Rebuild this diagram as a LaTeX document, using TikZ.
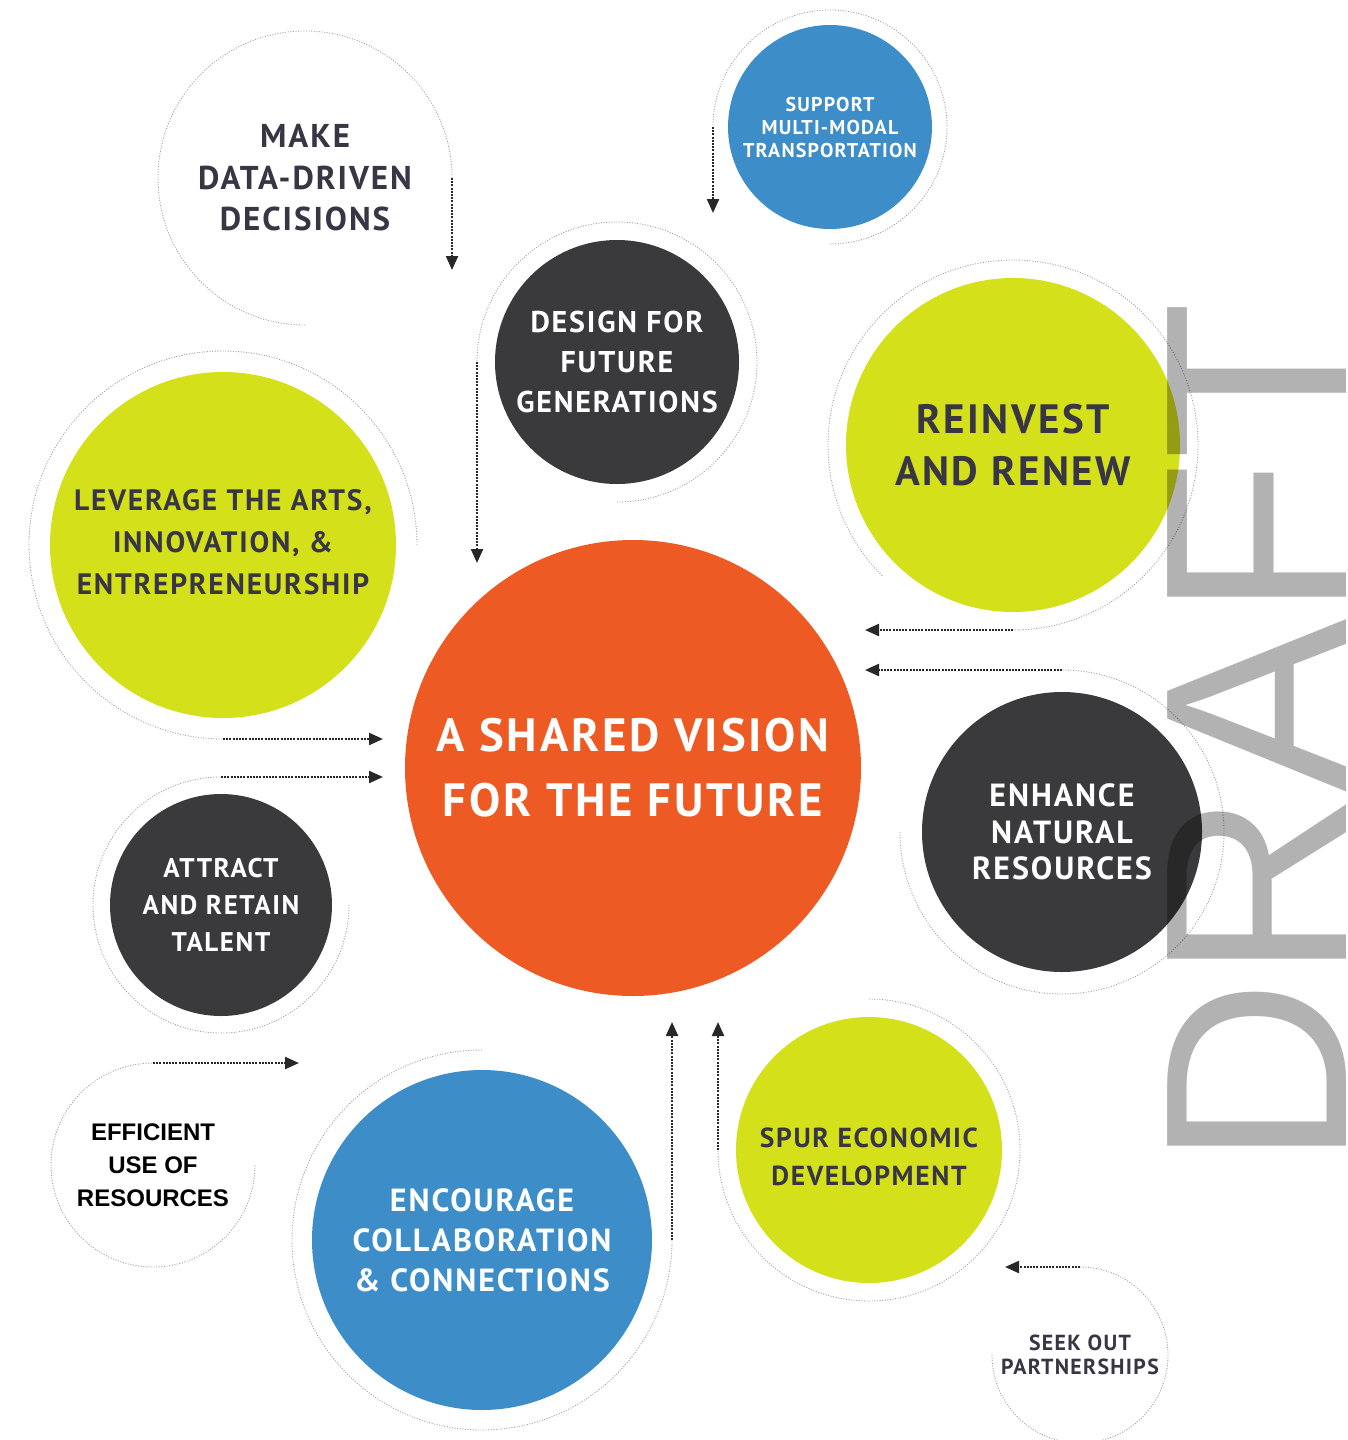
\documentclass[tikz,border=0pt]{standalone}
\usepackage{fontspec}
\setmainfont{PT Sans}
\newfontfamily\lab{PT Sans}[LetterSpace=6]
\newfontfamily\plainbold{Liberation Sans}
\newfontfamily\draftfont{Liberation Sans}
\usetikzlibrary{arrows.meta}
\newcommand\fsz[2]{\fontsize{#1}{#2}\selectfont}
\definecolor{vorange}{RGB}{237,90,35}
\definecolor{vblue}{RGB}{61,141,201}
\definecolor{vdark}{RGB}{58,58,60}
\definecolor{vlime}{RGB}{212,224,26}
\definecolor{vtext}{RGB}{56,54,68}
\definecolor{vring}{RGB}{160,160,168}
\definecolor{varrow}{RGB}{40,40,40}
\tikzset{
  disc/.style={circle, inner sep=0pt, draw=none},
  lbl/.style={align=center, inner sep=0pt},
  ring/.style={draw=vring, line width=0.9pt, dash pattern=on 1pt off 1.6pt},
  flow/.style={draw=varrow, line width=2.2pt, dash pattern=on 2pt off 1.2pt,
    -{Triangle[length=14pt,width=12pt]}},
}
\begin{document}
\begin{tikzpicture}[x=1pt,y=-1pt]
\fill[white] (0,0) rectangle (1347,1440);
\useasboundingbox (0,0) rectangle (1347,1440);

% ---------- filled discs ----------
\node[disc, fill=vorange, minimum size=456pt] (vision) at (633,768) {};
\node[disc, fill=vblue,  minimum size=204pt] (support) at (830,127) {};
\node[disc, fill=vdark,  minimum size=244pt] (design) at (617,362) {};
\node[disc, fill=vlime,  minimum size=334pt] (reinvest) at (1013,445) {};
\node[disc, fill=vlime,  minimum size=346pt] (leverage) at (223,545) {};
\node[disc, fill=vdark,  minimum size=280pt] (enhance) at (1062,832) {};
\node[disc, fill=vdark,  minimum size=222pt] (attract) at (221,905) {};
\node[disc, fill=vblue,  minimum size=340pt] (encourage) at (482,1240) {};
\node[disc, fill=vlime,  minimum size=266pt] (spur) at (869,1150) {};
\coordinate (make) at (305,178);
\coordinate (efficient) at (153,1165);
\coordinate (seek) at (1080,1355);

% ---------- rings ----------
\draw[ring] ([shift={(90:147)}]make) arc[start angle=90, end angle=360, radius=147] coordinate (make-e);
\draw[ring] ([shift={(90:117)}]support) arc[start angle=90, end angle=-180, radius=117] coordinate (support-e);
\draw[ring] ([shift={(90:140)}]design) arc[start angle=90, end angle=-180, radius=140] coordinate (design-e);
\draw[ring] ([shift={(135:185)}]reinvest) arc[start angle=135, end angle=450, radius=185] coordinate (reinvest-e);
\draw[ring] ([shift={(180:162)}]enhance) arc[start angle=180, end angle=-90, radius=162] coordinate (enhance-e);
\draw[ring] ([shift={(0:194)}]leverage) arc[start angle=0, end angle=-270, radius=194] coordinate (leverage-e);
\draw[ring] ([shift={(0:128)}]attract) arc[start angle=0, end angle=270, radius=128] coordinate (attract-e);
\draw[ring] ([shift={(0:102)}]efficient) arc[start angle=0, end angle=270, radius=102] coordinate (efficient-e);
\draw[ring] ([shift={(-90:190)}]encourage) arc[start angle=-90, end angle=-360, radius=190] coordinate (encourage-e);
\draw[ring] ([shift={(-90:151)}]spur) arc[start angle=-90, end angle=180, radius=151] coordinate (spur-e);
\draw[ring] ([shift={(180:88)}]seek) arc[start angle=180, end angle=-90, radius=88] coordinate (seek-e);

% ---------- arrow tips ----------
\coordinate (make-t) at (452,270);
\coordinate (support-t) at (713,213);
\coordinate (design-t) at (477,563);
\coordinate (reinvest-t) at (865,630);
\coordinate (enhance-t) at (865,670);
\coordinate (leverage-t) at (383,739);
\coordinate (attract-t) at (383,777);
\coordinate (efficient-t) at (299,1063);
\coordinate (encourage-t) at (672,1022);
\coordinate (spur-t) at (718,1022);
\coordinate (seek-t) at (1005,1267);

\foreach \n in {make,support,design,reinvest,enhance,leverage,attract,efficient,encourage,spur,seek}
  \draw[flow] (\n-e) -- (\n-t);

% ---------- labels ----------
\node[lbl, text=white, font={\lab\bfseries\fsz{46.7}{65}}] (vision-l) at (vision) {A SHARED VISION\\FOR THE FUTURE};
\node[lbl, text=vtext, font={\lab\bfseries\fsz{33}{41.5}}] (make-l) at (make) {MAKE\\DATA-DRIVEN\\DECISIONS};
\node[lbl, text=white, font={\lab\bfseries\fsz{20}{23}}] (support-l) at (support) {SUPPORT\\MULTI-MODAL\\TRANSPORTATION};
\node[lbl, text=white, font={\lab\bfseries\fsz{30}{40}}] (design-l) at (design) {DESIGN FOR\\FUTURE\\GENERATIONS};
\node[lbl, text=vtext, font={\lab\bfseries\fsz{41}{52}}] (reinvest-l) at (reinvest) {REINVEST\\AND RENEW};
\node[lbl, text=vtext, font={\lab\bfseries\fsz{29.5}{42}}] (leverage-l) at ([yshift=3pt]leverage) {LEVERAGE THE ARTS,\\INNOVATION, \&\\ENTREPRENEURSHIP};
\node[lbl, text=white, font={\lab\bfseries\fsz{32}{36.5}}] (enhance-l) at (enhance) {ENHANCE\\NATURAL\\RESOURCES};
\node[lbl, text=white, font={\lab\bfseries\fsz{27}{37}}] (attract-l) at (attract) {ATTRACT\\AND RETAIN\\TALENT};
\node[lbl, text=white, font={\lab\bfseries\fsz{32}{40}}] (encourage-l) at (encourage) {ENCOURAGE\\COLLABORATION\\\& CONNECTIONS};
\node[lbl, text=vtext, font={\lab\bfseries\fsz{27.5}{38}}] (spur-l) at ([yshift=-7pt]spur) {SPUR ECONOMIC\\DEVELOPMENT};
\node[lbl, text=vtext, font={\lab\bfseries\fsz{21.8}{24}}] (seek-l) at (seek) {SEEK OUT\\PARTNERSHIPS};
\node[lbl, text=black, font={\plainbold\bfseries\fsz{24}{33}}] (efficient-l) at (efficient) {EFFICIENT\\USE OF\\RESOURCES};

% ---------- watermark ----------
\node[inner sep=0pt, rotate=90, anchor=base west, text=black, text opacity=0.3,
      font={\draftfont\fsz{260}{260}}] (draft) at (1346,1168) {DRAFT};
\end{tikzpicture}
\end{document}
